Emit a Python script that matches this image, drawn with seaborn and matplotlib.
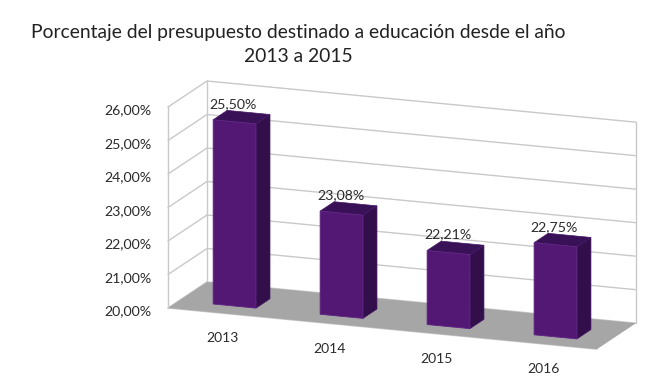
import pandas as pd
import matplotlib.pyplot as plt
import seaborn as sns
from matplotlib.patches import Polygon
from matplotlib.transforms import Affine2D, IdentityTransform

# values
years = ["2013", "2014", "2015", "2016"]
values = [25.50, 23.08, 22.21, 22.75]
value_labels = ["25,50%", "23,08%", "22,21%", "22,75%"]
y_ticks = [20, 21, 22, 23, 24, 25, 26]
y_tick_labels = ["20,00%", "21,00%", "22,00%", "23,00%", "24,00%", "25,00%", "26,00%"]
title = "Porcentaje del presupuesto destinado a educación desde el año\n2013 a 2015"

sns.set_theme(style="white")
plt.rcParams["font.family"] = ["Lato", "DejaVu Sans"]

W, H = 653, 382
FRONT = "#521873"
SIDE = "#320f4b"
TOP = "#391157"
GRID = "#c9c9c9"
FLOOR = "#a6a6a6"
TEXT = "#2b2b2b"

fig = plt.figure(figsize=(W / 100, H / 100), dpi=100)
# the axes box is the front plane of the fake 3D chart
ax = fig.add_axes([168 / W, 74 / H, 429 / W, 201 / H])
ax.patch.set_visible(False)

df = pd.DataFrame({"year": years, "pct": values})
sns.barplot(data=df, x="year", y="pct", color=FRONT, saturation=1, width=0.4, ax=ax)
bars = list(ax.patches)
ax.set_xlim(-0.52, 3.49)
ax.set_ylim(20, 26)
ax.set_xticks([])
ax.set_yticks(y_ticks)
ax.set_yticklabels(y_tick_labels, fontsize=10.2, color=TEXT)
ax.tick_params(axis="y", length=0, pad=12)
for lab in ax.get_yticklabels():
    lab.set_transform(lab.get_transform() + Affine2D().translate(0, -2.5))
ax.set_xlabel("")
ax.set_ylabel("")
sns.despine(ax=ax, bottom=True)
ax.spines["left"].set_color(GRID)
ax.spines["left"].set_linewidth(1)

SLOPE = 0.096
DEPTH = (39, 26)
skew = Affine2D.from_values(1, -SLOPE, 0, 1, 0, SLOPE * 168)


def plane(d, dx=0, dy=0):
    # data coords to display pixels, d is depth (0 front of floor, 1 back wall)
    return ax.transData + skew + Affine2D().translate(DEPTH[0] * d + dx, DEPTH[1] * d + dy)


def px(x, y, d):
    return plane(d).transform((x, y))


x0, x1 = ax.get_xlim()
ident = IdentityTransform()


def line(a, b, **kw):
    ax.plot([a[0], b[0]], [a[1], b[1]], transform=ident, color=GRID, lw=1,
            clip_on=False, zorder=1, **kw)


# floor
floor = [px(x0, 20, 0), px(x1, 20, 0), px(x1, 20, 1), px(x0, 20, 1)]
ax.add_patch(Polygon(floor, closed=True, transform=ident, facecolor=FLOOR,
                     edgecolor="none", clip_on=False, zorder=1.5))

# walls and grid
for t in y_ticks:
    line(px(x0, t, 0), px(x0, t, 1))
    line(px(x0, t, 1), px(x1, t, 1))
line(px(x0, 20, 1), px(x0, 26, 1))
line(px(x1, 20, 1), px(x1, 26, 1))
line(px(x0, 20, 0), px(x1, 20, 0))

# bars, front face goes through the seaborn patches
bar_d = 0.28
bar_depth = 0.36
for p, v in zip(bars, values):
    p.set_y(20)
    p.set_height(v - 20)
    p.set_transform(plane(bar_d))
    p.set_clip_on(False)
    p.set_zorder(4)
    p.set_edgecolor("#5f2485")
    p.set_linewidth(0.6)
    a, b = p.get_x(), p.get_x() + p.get_width()
    side = [px(b, 20, bar_d), px(b, v, bar_d), px(b, v, bar_d + bar_depth), px(b, 20, bar_d + bar_depth)]
    top = [px(a, v, bar_d), px(b, v, bar_d), px(b, v, bar_d + bar_depth), px(a, v, bar_d + bar_depth)]
    ax.add_patch(Polygon(side, closed=True, transform=ident, facecolor=SIDE,
                         edgecolor="#431563", lw=0.5, clip_on=False, zorder=3))
    ax.add_patch(Polygon(top, closed=True, transform=ident, facecolor=TOP,
                         edgecolor="#431563", lw=0.5, clip_on=False, zorder=3))

# value labels above the bars, year labels under the floor
for i, (v, lab) in enumerate(zip(values, value_labels)):
    ax.text(i, v, lab, transform=plane(bar_d, -1, 18), ha="center", va="center",
            fontsize=10.2, color=TEXT, clip_on=False, zorder=5)
for i, y in enumerate(years):
    ax.text(i, 20, y, transform=plane(0, -1, -25), ha="center", va="center",
            fontsize=10, color=TEXT, clip_on=False, zorder=5)

fig.text(298 / W, 1 - 44.5 / H, title, ha="center", va="center", fontsize=13.85,
         color="#222222", linespacing=1.5)

fig.savefig("out.png", dpi=100, facecolor="white")
